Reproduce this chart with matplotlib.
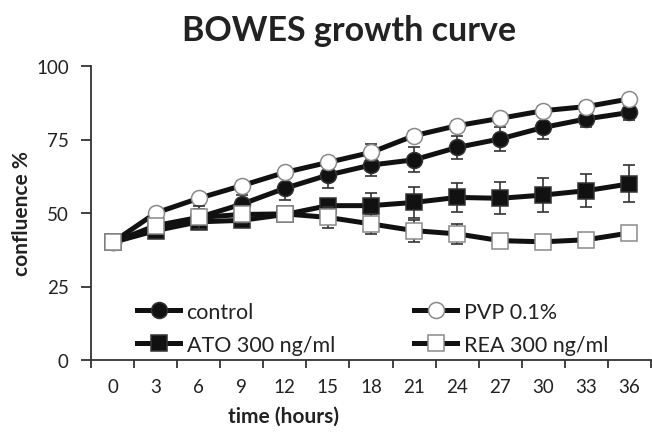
import matplotlib
matplotlib.use("Agg")
import matplotlib.pyplot as plt
import numpy as np

hours = [0, 3, 6, 9, 12, 15, 18, 21, 24, 27, 30, 33, 36]
control = [40, 44.5, 48.5, 53, 58.4, 62.9, 66.3, 68.1, 72.3, 75.2, 79.1, 82, 84.2]
control_err = [1, 1.5, 3, 3, 4, 4.4, 3.8, 4.3, 4, 4.2, 4, 2.8, 2.5]
pvp = [40, 50, 55, 59.3, 63.8, 67.2, 70.6, 76.3, 79.7, 82.2, 84.8, 86.2, 88.8]
pvp_err = [1, 1, 1.5, 1.5, 1.5, 1.5, 2.8, 1.5, 1.5, 1.5, 1.5, 1.5, 1.5]
ato = [40, 44, 47, 47.5, 49.5, 52.5, 52.5, 53.6, 55.3, 55, 56.1, 57.6, 59.9]
ato_err = [1, 1.5, 2, 2, 2, 2, 4.2, 5.3, 5, 5.5, 5.8, 5.7, 6.3]
rea = [40, 45.7, 48.5, 49.5, 49.7, 48.5, 46.3, 44, 42.9, 40.6, 40.2, 40.9, 43.2]
rea_err = [1, 2, 4, 3, 2, 3.7, 3.4, 3.7, 3.4, 1.5, 1.5, 1.5, 1.5]
yticks = [0, 25, 50, 75, 100]

plt.rcParams['font.family'] = ['Lato', 'DejaVu Sans']
TXT = '#222222'

fig = plt.figure(figsize=(6.52, 4.35), dpi=100)
W, H = 652, 435
ax = fig.add_axes([91 / W, 1 - 361 / H, 560 / W, 294 / H])

x = np.arange(len(hours))
series = [
    ("control", control, control_err, 'o', '#111111', '#333333'),
    ("ATO 300 ng/ml", ato, ato_err, 's', '#111111', '#333333'),
    ("PVP 0.1%", pvp, pvp_err, 'o', 'white', '#8a8a8a'),
    ("REA 300 ng/ml", rea, rea_err, 's', 'white', '#8a8a8a'),
]
handles = {}
for i, (lab, vals, err, mk, fc, ec) in enumerate(series):
    ax.errorbar(x, vals, yerr=err, fmt='none', ecolor='#333333', elinewidth=1.2,
                capsize=4.5, capthick=1.2, zorder=2 + i * 2)
    ms = 11.5 if mk == 'o' else 11
    h, = ax.plot(x, vals, color='#111111', lw=3.6, marker=mk, ms=ms,
                 markerfacecolor=fc, markeredgecolor=ec, markeredgewidth=1.1,
                 zorder=3 + i * 2, label=lab)
    handles[lab] = h

ax.set_xlim(-0.5, len(hours) - 0.5)
ax.set_ylim(0, 100)
ax.set_xticks(x)
ax.set_xticklabels([str(h) for h in hours])
ax.set_xticks(np.arange(-0.5, len(hours), 1.0), minor=True)
ax.tick_params(axis='x', which='major', length=0, pad=13, labelsize=13.5, colors=TXT)
ax.tick_params(axis='x', which='minor', length=6, width=1.3, direction='out', color='#333333')
ax.set_yticks(yticks)
ax.set_yticklabels([str(v) for v in yticks])
ax.tick_params(axis='y', which='major', length=7, width=1.3, pad=9, labelsize=13.5, colors='#333333', labelcolor=TXT)
ax.tick_params(axis='x', which='major', labelcolor=TXT)

for s in ['top', 'right']:
    ax.spines[s].set_visible(False)
for s in ['left', 'bottom']:
    ax.spines[s].set_linewidth(1.3)
    ax.spines[s].set_color('#333333')

leg = ax.legend([handles["control"], handles["ATO 300 ng/ml"], handles["PVP 0.1%"], handles["REA 300 ng/ml"]],
                ["control", "ATO 300 ng/ml", "PVP 0.1%", "REA 300 ng/ml"],
                ncol=2, frameon=False, fontsize=15.5, loc='upper left',
                bbox_to_anchor=(137 / W, 1 - 303 / H), bbox_transform=fig.transFigure,
                borderpad=0, borderaxespad=0, handlelength=2.0, handletextpad=0.3,
                columnspacing=3.7, labelspacing=0.6)
for t in leg.get_texts():
    t.set_color(TXT)

fig.text(349 / W, 1 - 31 / H, "BOWES growth curve", ha='center', va='center',
         fontsize=24.5, fontweight='bold', color=TXT)
fig.text(283 / W, 1 - 417 / H, "time (hours)", ha='center', va='center',
         fontsize=15, fontweight='bold', color=TXT)
fig.text(22 / W, 1 - 214 / H, "confluence %", ha='center', va='center', rotation=90,
         fontsize=15, fontweight='bold', color=TXT)

fig.savefig("out.png", dpi=100)
